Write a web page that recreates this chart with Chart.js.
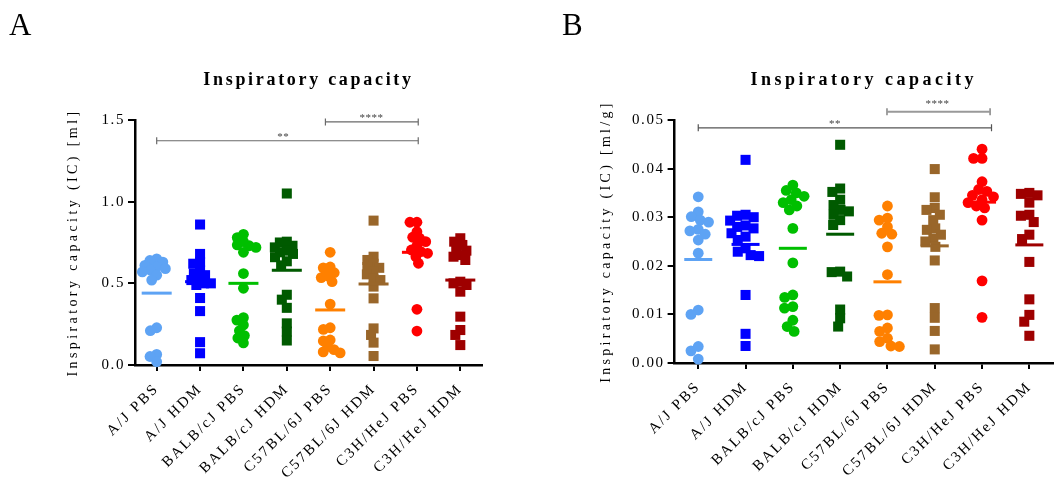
<!DOCTYPE html>
<html>
<head>
<meta charset="utf-8">
<script src="https://cdn.jsdelivr.net/npm/chart.js@4.4.1/dist/chart.umd.min.js"></script>
<style>
  html, body { margin: 0; padding: 0; background: #fff; overflow: hidden; width: 1054px; height: 485px; }
  .panel { position: absolute; top: 0; }
  #wrapA { left: 0; }
  #wrapB { left: 540px; }
</style>
</head>
<body>
<div class="panel" id="wrapA"><canvas id="chartA" width="500" height="485"></canvas></div>
<div class="panel" id="wrapB"><canvas id="chartB" width="530" height="485"></canvas></div>
<script>
// ---------- data ----------
const categories = ['A/J PBS', 'A/J HDM', 'BALB/cJ PBS', 'BALB/cJ HDM', 'C57BL/6J PBS', 'C57BL/6J HDM', 'C3H/HeJ PBS', 'C3H/HeJ HDM'];
const chartTitle = 'Inspiratory capacity';
const yTitleA = 'Inspiratory capacity (IC) [ml]';
const yTitleB = 'Inspiratory capacity (IC) [ml/g]';

// Panel A: IC in ml
const icA_AJ_PBS    = [0.65, 0.64, 0.63, 0.61, 0.60, 0.59, 0.58, 0.57, 0.55, 0.52, 0.228, 0.21, 0.065, 0.052, 0.02];
const icA_AJ_HDM    = [0.86, 0.68, 0.63, 0.62, 0.58, 0.56, 0.55, 0.53, 0.52, 0.50, 0.50, 0.49, 0.41, 0.33, 0.14, 0.072];
const icA_BALB_PBS  = [0.80, 0.78, 0.755, 0.735, 0.73, 0.72, 0.69, 0.56, 0.47, 0.29, 0.275, 0.245, 0.21, 0.18, 0.165, 0.135];
const icA_BALB_HDM  = [1.05, 0.755, 0.75, 0.73, 0.72, 0.70, 0.69, 0.68, 0.66, 0.635, 0.61, 0.43, 0.40, 0.35, 0.255, 0.205, 0.15];
const icA_C57_PBS   = [0.69, 0.60, 0.595, 0.565, 0.545, 0.535, 0.51, 0.373, 0.228, 0.218, 0.153, 0.147, 0.113, 0.094, 0.08, 0.074];
const icA_C57_HDM   = [0.884, 0.663, 0.643, 0.62, 0.60, 0.595, 0.575, 0.555, 0.53, 0.52, 0.48, 0.408, 0.224, 0.184, 0.137, 0.055];
const icA_C3H_PBS   = [0.874, 0.874, 0.816, 0.782, 0.776, 0.755, 0.73, 0.704, 0.694, 0.684, 0.663, 0.623, 0.341, 0.208];
const icA_C3H_HDM   = [0.776, 0.755, 0.735, 0.714, 0.70, 0.673, 0.663, 0.643, 0.51, 0.50, 0.49, 0.449, 0.296, 0.214, 0.184, 0.122];
const meanA = [0.44, 0.51, 0.50, 0.58, 0.337, 0.496, 0.69, 0.52];

// Panel B: IC in ml/g
const icB_AJ_PBS    = [0.0342, 0.0311, 0.0301, 0.0294, 0.029, 0.0275, 0.0272, 0.0265, 0.0253, 0.0226, 0.0109, 0.0100, 0.0034, 0.0025, 0.0008];
const icB_AJ_HDM    = [0.0418, 0.0305, 0.0303, 0.030, 0.0293, 0.0283, 0.0280, 0.0277, 0.0267, 0.0260, 0.0253, 0.0236, 0.0229, 0.0222, 0.022, 0.014, 0.006, 0.0035];
const icB_BALB_PBS  = [0.0366, 0.0355, 0.035, 0.0343, 0.0336, 0.033, 0.0323, 0.0315, 0.0277, 0.0206, 0.014, 0.0135, 0.0116, 0.0113, 0.0088, 0.0075, 0.0065];
const icB_BALB_HDM  = [0.0449, 0.0359, 0.0352, 0.0336, 0.0325, 0.0315, 0.0312, 0.0305, 0.0294, 0.0284, 0.0188, 0.0187, 0.0178, 0.011, 0.0092, 0.0075];
const icB_C57_PBS   = [0.0323, 0.0298, 0.0294, 0.0280, 0.0267, 0.0265, 0.0239, 0.0182, 0.0099, 0.0098, 0.0072, 0.0065, 0.0051, 0.0044, 0.0035, 0.0034];
const icB_C57_HDM   = [0.0399, 0.0341, 0.0319, 0.0315, 0.0305, 0.0294, 0.0277, 0.0274, 0.0264, 0.0256, 0.0250, 0.0239, 0.0211, 0.0113, 0.0093, 0.0066, 0.0028];
const icB_C3H_PBS   = [0.044, 0.0421, 0.0421, 0.0373, 0.0357, 0.0353, 0.0345, 0.0342, 0.0336, 0.033, 0.0323, 0.0319, 0.0294, 0.0169, 0.0094];
const icB_C3H_HDM   = [0.035, 0.0348, 0.0345, 0.033, 0.0305, 0.0303, 0.029, 0.0264, 0.0255, 0.0208, 0.0131, 0.0099, 0.0085, 0.0056];
const meanB = [0.0213, 0.0244, 0.0236, 0.0265, 0.0167, 0.0241, 0.0331, 0.0243];

const yTicksA = [0, 0.5, 1.0, 1.5];
const yTicksB = [0, 0.01, 0.02, 0.03, 0.04, 0.05];

// significance brackets: from/to category positions, bracket height, label
const sigA_from = [0, 3.89];
const sigA_to = [6.03, 6.03];
const sigA_y = [1.373, 1.488];
const sigA_label = ['**', '****'];
const sigA_labelX = [2.92, 4.95];
const sigA_labelY = [1.377, 1.491];

const sigB_from = [0, 3.99];
const sigB_to = [6.2, 6.17];
const sigB_y = [0.0484, 0.0517];
const sigB_label = ['**', '****'];
const sigB_labelX = [2.89, 5.06];
const sigB_labelY = [0.0486, 0.0527];

const valuesA = [icA_AJ_PBS, icA_AJ_HDM, icA_BALB_PBS, icA_BALB_HDM, icA_C57_PBS, icA_C57_HDM, icA_C3H_PBS, icA_C3H_HDM];
const valuesB = [icB_AJ_PBS, icB_AJ_HDM, icB_BALB_PBS, icB_BALB_HDM, icB_C57_PBS, icB_C57_HDM, icB_C3H_PBS, icB_C3H_HDM];

// ---------- styles ----------
const COLORS = ['#5ea3f4', '#0000ff', '#00bf00', '#005a00', '#ff8000', '#99662a', '#ff0000', '#9e0000'];
const SERIF = "'Liberation Serif', 'DejaVu Serif', serif";

function wrapCtx(ctx, sp) {
  const fill = ctx.fillText.bind(ctx);
  const spacingFor = t => {
    if (t === chartTitle) return sp.title;
    if (t === yTitleA || t === yTitleB) return sp.yTitle;
    if (categories.indexOf(t) >= 0) return sp.xTick;
    if (t === 'A' || t === 'B') return '0px';
    if (t.indexOf('*') >= 0) return '0.5px';
    return sp.yTick;
  };
  ctx.fillText = function (t, x, y) {
    this.letterSpacing = spacingFor(String(t));
    return fill(t, x, y);
  };
  return ctx;
}

// simple beeswarm: place each point at the closest non-overlapping horizontal offset
function swarm(pys, D) {
  const order = pys.map((_, i) => i).sort((a, b) => pys[a] - pys[b]);
  const placed = [];
  const out = new Array(pys.length).fill(0);
  for (const i of order) {
    const y = pys[i];
    const iv = [];
    for (const p of placed) {
      const dy = Math.abs(p.y - y);
      if (dy < D) { const dx = Math.sqrt(D * D - dy * dy); iv.push([p.x - dx, p.x + dx]); }
    }
    const cands = [0];
    iv.forEach(([a, b]) => cands.push(a, b));
    cands.sort((a, b) => Math.abs(a) - Math.abs(b) || a - b);
    let x = 0;
    for (const c of cands) {
      if (iv.every(([a, b]) => c <= a + 1e-6 || c >= b - 1e-6)) { x = c; break; }
    }
    out[i] = x;
    placed.push({ x, y });
  }
  return out;
}

const sigPlugin = {
  id: 'sig',
  afterDatasetsDraw(chart, args, o) {
    const { ctx, scales: { x, y } } = chart;
    ctx.save();
    o.from.forEach((f, i) => {
      const x1 = x.getPixelForValue(f), x2 = x.getPixelForValue(o.to[i]), py = y.getPixelForValue(o.y[i]);
      ctx.strokeStyle = o.colors[i];
      ctx.lineWidth = o.widths[i];
      ctx.beginPath();
      ctx.moveTo(x1, py); ctx.lineTo(x2, py);
      ctx.moveTo(x1, py - 3.5); ctx.lineTo(x1, py + 3.5);
      ctx.moveTo(x2, py - 3.5); ctx.lineTo(x2, py + 3.5);
      ctx.stroke();
      ctx.fillStyle = '#444';
      ctx.font = '11px ' + SERIF;
      ctx.textAlign = 'center';
      ctx.textBaseline = 'alphabetic';
      ctx.fillText(o.label[i], x.getPixelForValue(o.labelX[i]), y.getPixelForValue(o.labelY[i]));
    });
    ctx.restore();
  }
};
const letterPlugin = {
  id: 'panelLetter',
  afterDraw(chart, args, o) {
    const ctx = chart.ctx;
    ctx.save();
    ctx.fillStyle = '#000';
    ctx.font = '31px ' + SERIF;
    ctx.textAlign = 'left';
    ctx.textBaseline = 'alphabetic';
    ctx.fillText(o.text, o.x, o.y);
    ctx.restore();
  }
};

function makePanel(id, values, means, yTicks, dec, yTitle, sig, letter, geo) {
  const ctx = wrapCtx(document.getElementById(id).getContext('2d'), geo.spacing);
  const datasets = [{
    label: 'mean',
    data: means.map((m, i) => ({ x: i, y: m })),
    pointStyle: 'line',
    pointRadius: geo.meanHalf,
    pointBorderWidth: 3,
    pointBorderColor: COLORS,
    pointBackgroundColor: COLORS,
    order: -1,
    clip: false
  }];
  values.forEach((vals, gi) => {
    datasets.push({
      label: categories[gi],
      data: vals.map(v => ({ x: gi, y: v })),
      pointStyle: gi % 2 === 0 ? 'circle' : 'rect',
      pointRadius: gi % 2 === 0 ? 5.4 : 7.1,
      pointBackgroundColor: COLORS[gi],
      pointBorderColor: COLORS[gi],
      pointBorderWidth: 0,
      clip: false
    });
  });
  const tickFont = { family: SERIF, size: 15 };
  const lh = geo.titleSize * 1.2;
  const chart = new Chart(ctx, {
    type: 'scatter',
    data: { datasets },
    plugins: [sigPlugin, letterPlugin],
    options: {
      responsive: false,
      animation: false,
      events: [],
      layout: { padding: { left: 0, right: geo.padR, top: 0, bottom: 0 } },
      plugins: {
        legend: { display: false },
        tooltip: { enabled: false },
        title: {
          display: true, text: chartTitle, fullSize: false, color: '#000',
          font: { family: SERIF, size: geo.titleSize, weight: 'bold' },
          padding: { top: 80 - lh / 2, bottom: 120 - (80 + lh / 2) }
        },
        sig: sig,
        panelLetter: letter
      },
      scales: {
        x: {
          type: 'linear', min: -0.5, max: 7.5,
          afterBuildTicks: s => { s.ticks = categories.map((c, i) => ({ value: i })); },
          afterFit: s => { s.height = geo.xH; },
          ticks: {
            callback: v => categories[v], minRotation: 45, maxRotation: 45, autoSkip: false,
            font: tickFont, color: '#000', padding: 9
          },
          grid: { drawOnChartArea: false, drawTicks: true, tickLength: 6, color: '#000', lineWidth: 2 },
          border: { color: '#000', width: 2.5 }
        },
        y: {
          min: yTicks[0], max: yTicks[yTicks.length - 1],
          afterBuildTicks: s => { s.ticks = yTicks.map(v => ({ value: v })); },
          afterFit: s => { s.width = geo.yW; },
          ticks: { callback: v => Number(v).toFixed(dec), font: tickFont, color: '#000', padding: 3 },
          grid: { drawOnChartArea: false, drawTicks: true, tickLength: 7, color: '#000', lineWidth: 2 },
          border: { color: '#000', width: 2.5 },
          title: {
            display: true, text: yTitle, color: '#000',
            font: { family: SERIF, size: 14 },
            padding: { top: geo.yTitlePad, bottom: 0 }
          }
        }
      }
    }
  });
  // spread points of each group horizontally (beeswarm) using the library's own scales
  const xs = chart.scales.x, ys = chart.scales.y;
  const ppu = xs.getPixelForValue(1) - xs.getPixelForValue(0);
  values.forEach((vals, gi) => {
    const off = swarm(vals.map(v => ys.getPixelForValue(v)), geo.swarmD);
    chart.data.datasets[gi + 1].data = vals.map((v, k) => ({ x: gi + off[k] / ppu, y: v }));
  });
  chart.update('none');
  return chart;
}

makePanel('chartA', valuesA, meanA, yTicksA, 1, yTitleA,
  { from: sigA_from, to: sigA_to, y: sigA_y, label: sigA_label, labelX: sigA_labelX, labelY: sigA_labelY,
    colors: ['#6a6a6a', '#6a6a6a'], widths: [1.2, 1.2] },
  { text: 'A', x: 9, y: 35 },
  { padR: 11, xH: 120, yW: 135, yTitlePad: 65, meanHalf: 15, swarmD: 7, titleSize: 18,
    spacing: { title: '2.7px', yTitle: '3.4px', xTick: '2.2px', yTick: '1.6px' } });

makePanel('chartB', valuesB, meanB, yTicksB, 2, yTitleB,
  { from: sigB_from, to: sigB_to, y: sigB_y, label: sigB_label, labelX: sigB_labelX, labelY: sigB_labelY,
    colors: ['#555', '#999'], widths: [1.2, 1.8] },
  { text: 'B', x: 22, y: 35 },
  { padR: 10.2, xH: 122, yW: 134.6, yTitlePad: 57.6, meanHalf: 14, swarmD: 8.5, titleSize: 18,
    spacing: { title: '3.5px', yTitle: '3.3px', xTick: '2.2px', yTick: '1.6px' } });
</script>
</body>
</html>
